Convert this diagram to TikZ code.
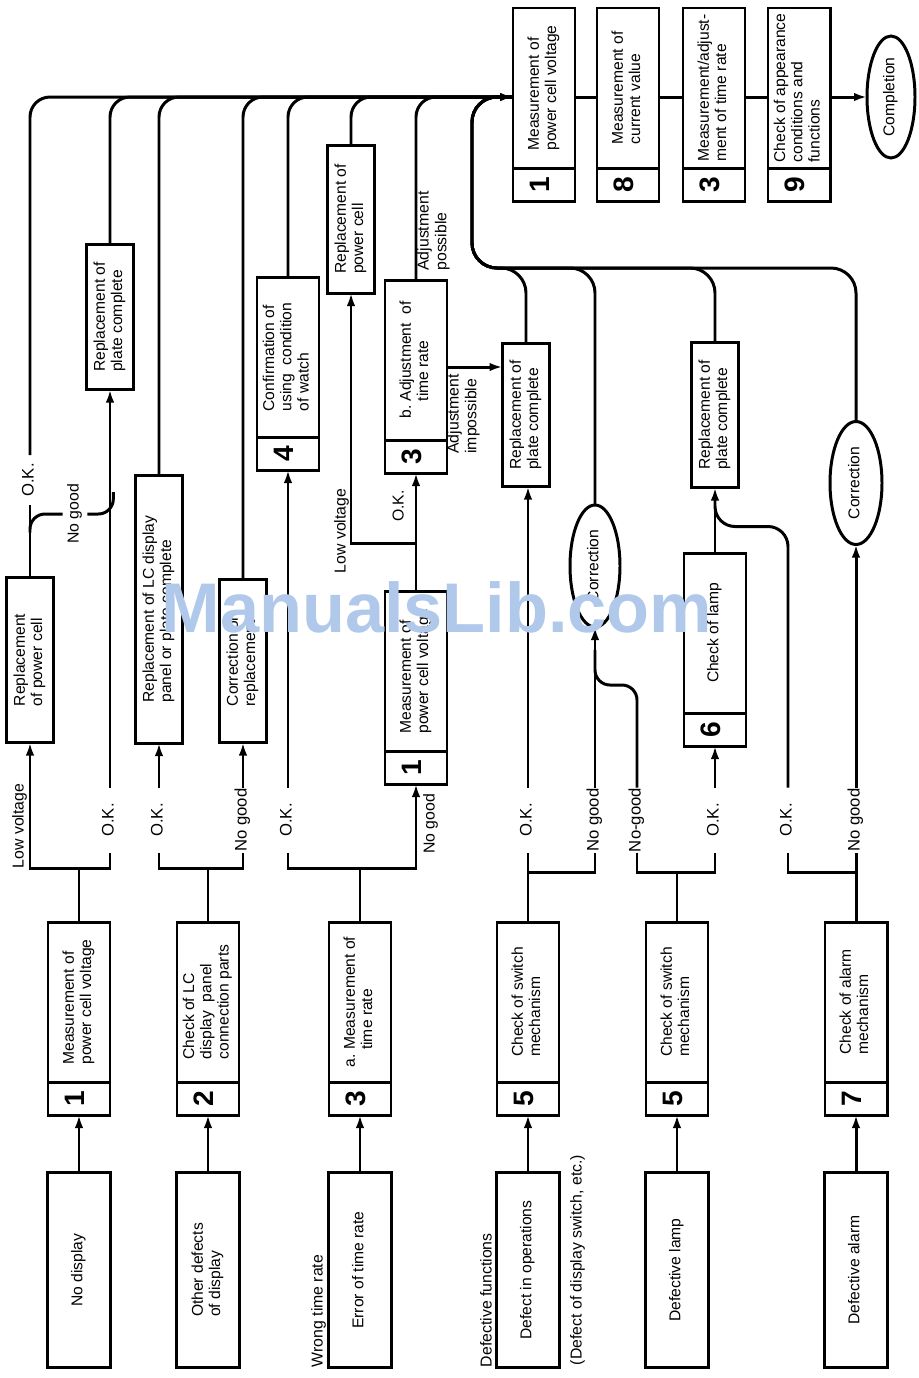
\documentclass[tikz,border=0pt]{standalone}
\usepackage{fontspec}
\setmainfont{Liberation Sans}
\usepackage{graphicx}
\usetikzlibrary{positioning,shapes.geometric,arrows.meta}
\newcommand{\rt}[1]{\rotatebox{90}{\begin{tabular}{@{}l@{}}#1\end{tabular}}}
\newcommand{\rtb}[2]{\rotatebox{90}{\begin{tabular}{@{}l@{\ }l@{}}#1&#2\end{tabular}}}
\definecolor{wmblue}{RGB}{176,200,234}
\begin{document}
\begin{tikzpicture}
	[x=0.2mm,y=-0.2mm,
	line width=1.7pt,
	every node/.style={inner sep=0pt,outer sep=0pt,font=\fontsize{8.9}{9.8}\selectfont},
	inbox/.style={draw,minimum width=1.26cm,minimum height=3.9cm},
	chk/.style={draw,minimum width=1.24cm,minimum height=3.2cm},
	num/.style={draw,minimum width=1.24cm,minimum height=0.66cm,below=0pt of #1,font=\fontsize{16}{16}\bfseries},
	rbox/.style={draw,minimum width=0.94cm,minimum height=#1},
	oval/.style={draw,ellipse,minimum width=1cm,minimum height=2.44cm},
	gap/.style={minimum height=1.3cm,font=\fontsize{9.5}{10}\selectfont},
	lbl/.style={font=\fontsize{9}{10}\selectfont},
	arr/.style={-{Latex[length=2.6mm,width=1.7mm]}}]
	\useasboundingbox (0,0) rectangle (919,1378);
	\coordinate (bus) at (0,97);
	\coordinate (lowbus) at (472,268);

	\node[lbl,anchor=south] (wtr) at (319,1367) {\rt{Wrong time rate}};
	\node[lbl,anchor=south] (deff) at (488,1367) {\rt{Defective functions}};
	\node[lbl,anchor=south] (dsw) at (578,1365) {\rt{(Defect of display switch, etc.)}};

	\node[inbox] (nodisp) at (79,1270) {\rt{No display}};
	\node[inbox] (othdef) at (208,1270) {\rt{Other defects\\of display}};
	\node[inbox] (ert) at (360,1270) {\rt{Error of time rate}};
	\node[inbox] (dop) at (528,1270) {\rt{Defect in operations}};
	\node[inbox] (dlamp) at (677,1270) {\rt{Defective lamp}};
	\node[inbox] (dalarm) at (856,1270) {\rt{Defective alarm}};

	\node[chk] (m1) at (79,1002) {\rt{Measurement of\\power cell voltage}};
	\node[num=m1] (m1n) {\rt{1}};
	\node[chk] (lc2) at (208,1002) {\rt{Check of LC\\display\ \ panel\\connection parts}};
	\node[num=lc2] (lc2n) {\rt{2}};
	\node[chk] (tr3) at (360,1002) {\rtb{a.}{Measurement of\\&time rate}};
	\node[num=tr3] (tr3n) {\rt{3}};
	\node[chk] (sw1) at (528,1002) {\rt{Check of switch\\mechanism}};
	\node[num=sw1] (sw1n) {\rt{5}};
	\node[chk] (sw2) at (677,1002) {\rt{Check of switch\\mechanism}};
	\node[num=sw2] (sw2n) {\rt{5}};
	\node[chk] (al7) at (856,1002) {\rt{Check of alarm\\mechanism}};
	\node[num=al7] (al7n) {\rt{7}};

	\node[lbl] (lv1) at (20,826) {\rt{Low voltage}};
	\node[gap] (ok1) at (110,820) {\rt{O.K.}};
	\node[gap] (ok2) at (159,820) {\rt{O.K.}};
	\node[gap] (ng2) at (243,820) {\rt{No good}};
	\node[gap] (ok3) at (288,820) {\rt{O.K.}};
	\node[lbl] (ng3) at (431,824) {\rt{No good}};
	\node[gap] (ok4) at (528,820) {\rt{O.K.}};
	\node[gap] (ng4) at (595,820) {\rt{No good}};
	\node[gap] (ng5) at (637,820) {\rt{No-good}};
	\node[gap] (ok5) at (715,820) {\rt{O.K.}};
	\node[gap] (ok6) at (788,820) {\rt{O.K.}};
	\node[gap] (ng6) at (856,820) {\rt{No good}};

	\node[rbox=3.3cm] (rpc1) at (30,660) {\rt{Replacement\\of power cell}};
	\node[gap,minimum height=1cm] (ok0) at (30,480) {\rt{O.K.}};
	\node[lbl,inner xsep=2pt] (ng0) at (75,514) {\rt{No good}};
	\node[rbox=2.9cm] (rplate1) at (110,317) {\rt{Replacement of\\plate complete}};
	\node[rbox=5.36cm] (rlc) at (159,609) {\rt{Replacement of LC display\\panel or plate complete}};
	\node[rbox=3.26cm] (corr2) at (243,661) {\rt{Correction or\\replacement}};
	\node[chk] (conf4) at (288,357) {\rt{Confirmation of\\using\ \ condition\\of watch}};
	\node[num=conf4] (conf4n) {\rt{4}};
	\node[chk] (m1b) at (416,671) {\rt{Measurement of\\power cell voltage}};
	\node[num=m1b] (m1bn) {\rt{1}};
	\node[rbox=2.96cm] (rpc2) at (351,219) {\rt{Replacement of\\power cell}};
	\node[chk] (adj3) at (416,360) {\rtb{b.}{Adjustment\ \ of\\&time rate}};
	\node[num=adj3] (adj3n) {\rt{3}};
	\node[lbl] (lv3) at (342,531) {\rt{Low voltage}};
	\node[lbl] (okm) at (400,506) {\rt{O.K.}};
	\node[lbl] (adjp) at (434,231) {\rt{Adjustment\\possible}};
	\node[lbl] (adji) at (464,414) {\rt{Adjustment\\impossible}};
	\node[rbox=2.86cm] (rplate4) at (526,415) {\rt{Replacement of\\plate complete}};
	\node[oval] (corr4) at (595,566) {\rt{Correction}};
	\node[chk] (lamp6) at (715,633) {\rt{Check of lamp}};
	\node[num=lamp6] (lamp6n) {\rt{6}};
	\node[rbox=2.9cm] (rplate5) at (715,415) {\rt{Replacement of\\plate complete}};
	\node[oval,minimum width=1.04cm,minimum height=2.46cm] (corr6) at (856,483) {\rt{Correction}};

	\node[chk] (f1) at (544,88) {\rt{Measurement of\\power cell voltage}};
	\node[num=f1] (f1n) {\rt{1}};
	\node[chk] (f8) at (628,88) {\rt{Measurement of\\current value}};
	\node[num=f8] (f8n) {\rt{8}};
	\node[chk] (f3) at (714,88) {\rt{Measurement/adjust-\\ment of time rate}};
	\node[num=f3] (f3n) {\rt{3}};
	\node[chk] (f9) at (799,88) {\rt{Check of appearance\\conditions and\\functions}};
	\node[num=f9] (f9n) {\rt{9}};
	\node[oval,minimum width=0.96cm] (done) at (891,97) {\rt{Completion}};

	\draw[arr] (nodisp) -- (m1n);
	\draw (m1.north) -- ++(0,-54) coordinate (j1);
	\draw[arr] (j1) -| (rpc1.south);
	\draw (j1) -| (ok1.south);
	\draw[arr] (ok1.north) -- (rplate1.south);
	\draw (rpc1.north) -- (ok0.south);
	\draw[rounded corners=0.3cm] (rpc1.north) ++(0,-45) |- (ng0.west);
	\draw[rounded corners=0.3cm] (ng0.east) -| ++(26,-22);
	\draw[arr,rounded corners=0.4cm] (ok0.north) |- (f1.west |- bus);
	\draw[rounded corners=0.4cm] (rplate1.north) |- (f1.west |- bus);

	\draw[arr] (othdef) -- (lc2n);
	\draw (lc2.north) -- ++(0,-54) coordinate (j2);
	\draw (ok2.south) |- (j2) -| (ng2.south);
	\draw[arr] (ok2.north) -- (rlc.south);
	\draw[arr] (ng2.north) -- (corr2.south);
	\draw[rounded corners=0.4cm] (rlc.north) |- (f1.west |- bus);
	\draw[rounded corners=0.4cm] (corr2.north) |- (f1.west |- bus);

	\draw[arr] (ert) -- (tr3n);
	\draw (tr3.north) -- ++(0,-54) coordinate (j3);
	\draw[arr] (ok3.south) |- (j3) -| (m1bn.south);
	\draw[arr] (ok3.north) -- (conf4n.south);
	\draw (m1b.north) -- ++(0,-48) coordinate (j3m);
	\draw[arr] (j3m) -- (adj3n.south);
	\draw[arr] (j3m) -| (rpc2.south);
	\draw[arr] ([yshift=-1.4mm]adj3.east) -- ([yshift=-1.4mm]adj3.east -| rplate4.west);
	\draw[rounded corners=0.4cm] (conf4.north) |- (f1.west |- bus);
	\draw[rounded corners=0.4cm] (rpc2.north) |- (f1.west |- bus);
	\draw[rounded corners=0.4cm] (adj3.north) |- (f1.west |- bus);

	\draw[arr] (dop) -- (sw1n);
	\draw (sw1.north) -- ++(0,-50) coordinate (j4) -- (ok4.south);
	\draw (j4) -| (ng4.south);
	\draw[arr] (ok4.north) -- (ok4.north |- rplate4.south);
	\draw[arr] (ng4.north) -- (corr4.south);
	\draw[rounded corners=0.5cm] (rplate4.north) |- (lowbus) |- (f1.west |- bus);
	\draw[rounded corners=0.5cm] (corr4.north) |- (lowbus) |- (f1.west |- bus);

	\draw[arr] (dlamp) -- (sw2n);
	\draw (sw2.north) -- ++(0,-50) coordinate (j5);
	\draw (ng5.south) |- (j5) -| (ok5.south);
	\draw[rounded corners=0.3cm] (ng5.north) |- ([yshift=-11.6mm]corr4.south) -- ([yshift=-4.6mm]corr4.south);
	\draw[arr] (ok5.north) -- (lamp6n.south);
	\draw[arr] (lamp6.north) -- (rplate5.south);
	\draw[rounded corners=0.5cm] (rplate5.north) |- (lowbus) |- (f1.west |- bus);

	\draw[arr] (dalarm) -- (al7n);
	\draw (al7.north) -- ++(0,-50) coordinate (j6) -- (ng6.south);
	\draw (j6) -| (ok6.south);
	\draw[arr] (ng6.north) -- (corr6.south);
	\draw[rounded corners=0.4cm] (ok6.north) |- ([yshift=-7.8mm]rplate5.south) -- ([yshift=-1.4mm]rplate5.south);
	\draw[arr,rounded corners=0.5cm] (corr6.north) |- (lowbus) |- (f1.west |- bus);

	\draw (f1.east |- bus) -- (f8.west |- bus);
	\draw (f8.east |- bus) -- (f3.west |- bus);
	\draw (f3.east |- bus) -- (f9.west |- bus);
	\draw[arr] (f9.east |- bus) -- (done);

	\node[text=wmblue,font=\fontsize{40}{40}\bfseries,anchor=base] (wmark) at (437,632) {ManualsLib.com};
\end{tikzpicture}
\end{document}
